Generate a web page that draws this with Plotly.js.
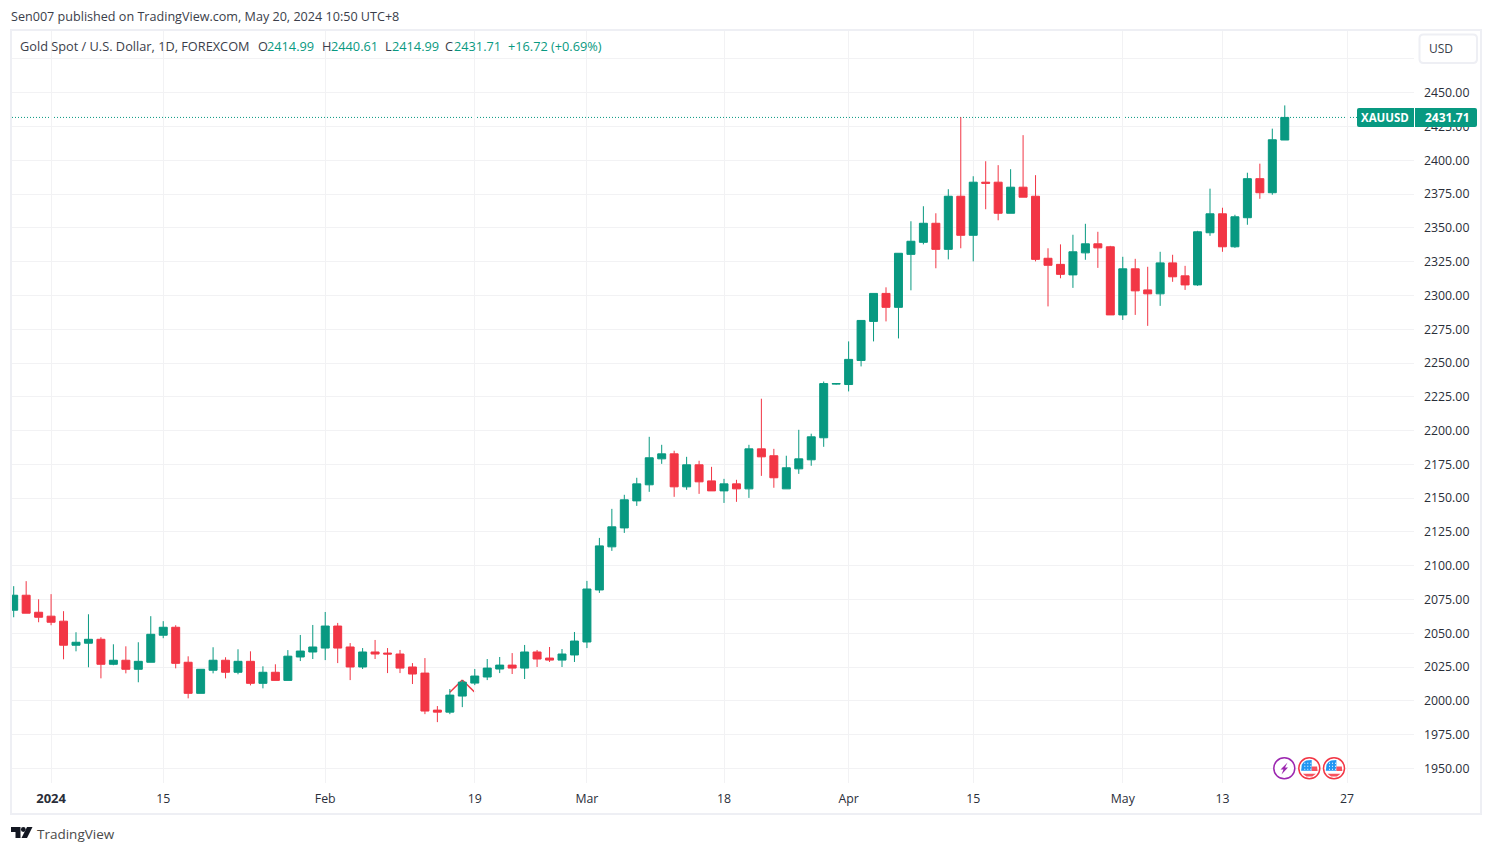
<!DOCTYPE html>
<html>
<head>
<meta charset="utf-8">
<script src="https://cdn.plot.ly/plotly-3.0.1.min.js"></script>
<style>html,body{margin:0;padding:0;background:#fff;overflow:hidden}#chart{width:1492px;height:853px}</style>
</head>
<body>
<div id="chart"></div>
<script>
var sessionDates = [
"2023-12-27","2023-12-28","2023-12-29",
"2024-01-02","2024-01-03","2024-01-04","2024-01-05","2024-01-08","2024-01-09","2024-01-10","2024-01-11","2024-01-12","2024-01-15","2024-01-16","2024-01-17","2024-01-18","2024-01-19","2024-01-22","2024-01-23","2024-01-24","2024-01-25","2024-01-26","2024-01-29","2024-01-30","2024-01-31",
"2024-02-01","2024-02-02","2024-02-05","2024-02-06","2024-02-07","2024-02-08","2024-02-09","2024-02-12","2024-02-13","2024-02-14","2024-02-15","2024-02-16","2024-02-19","2024-02-20","2024-02-21","2024-02-22","2024-02-23","2024-02-26","2024-02-27","2024-02-28","2024-02-29",
"2024-03-01","2024-03-04","2024-03-05","2024-03-06","2024-03-07","2024-03-08","2024-03-11","2024-03-12","2024-03-13","2024-03-14","2024-03-15","2024-03-18","2024-03-19","2024-03-20","2024-03-21","2024-03-22","2024-03-25","2024-03-26","2024-03-27","2024-03-28","2024-03-29",
"2024-04-01","2024-04-02","2024-04-03","2024-04-04","2024-04-05","2024-04-08","2024-04-09","2024-04-10","2024-04-11","2024-04-12","2024-04-15","2024-04-16","2024-04-17","2024-04-18","2024-04-19","2024-04-22","2024-04-23","2024-04-24","2024-04-25","2024-04-26","2024-04-29","2024-04-30",
"2024-05-01","2024-05-02","2024-05-03","2024-05-06","2024-05-07","2024-05-08","2024-05-09","2024-05-10","2024-05-13","2024-05-14","2024-05-15","2024-05-16","2024-05-17","2024-05-20"];
var futureDates = ["2024-05-21","2024-05-22","2024-05-23","2024-05-24","2024-05-27"];

var opens = [2067.1,2078.2,2065.6,2062.7,2059,2041.2,2042.7,2045.6,2027.1,2030.1,2023.4,2028.6,2048.6,2054.5,2028.6,2005.6,2022.7,2030.1,2021.2,2029.3,2013,2021.2,2015.2,2032.5,2036.2,2039.1,2055.4,2039.9,2025.1,2036.2,2035.4,2034.7,2025.1,2020.6,1993.2,1991.7,2003.6,2013.2,2017.7,2023.6,2026.5,2024.3,2036.2,2031.7,2030.2,2034,2043.6,2082.1,2114,2128,2148,2159.9,2179.1,2182.8,2158.4,2174.7,2162.8,2155.4,2160.6,2156.9,2186.5,2181.4,2156.9,2171.7,2178.4,2194.7,2234.4,2234.1,2251.9,2280.8,2301.5,2291.2,2330.4,2339.3,2353.4,2334.1,2373.4,2344.5,2383.8,2383.8,2360.8,2380.1,2373.4,2327.5,2323,2315.2,2331.5,2338.2,2336,2285.6,2319.7,2304.1,2301.2,2324.1,2314.5,2307.8,2346.4,2360.4,2336,2357.5,2386.4,2376,2414.99];
var highs = [2084.9,2088.6,2075.2,2079,2066.4,2050.8,2064.1,2047.1,2041.9,2040.4,2043.4,2062.7,2059,2056,2033,2023.4,2039.7,2032.3,2038.2,2036.7,2025.6,2027.1,2037.6,2048.8,2056.2,2065.8,2057.7,2042.8,2039.1,2045.1,2039.1,2037.7,2028,2031.7,1996.2,2008.8,2015.4,2023.6,2031,2032.5,2035.4,2041.4,2037.7,2039.9,2038.4,2051,2088.8,2120.6,2142.1,2152.5,2165.1,2195.4,2189.5,2185.1,2180.6,2177.7,2173.2,2164.3,2163.6,2189.5,2223.6,2186.5,2181.4,2200.6,2197.7,2236.3,2235,2266,2281.5,2301.5,2306,2331.2,2354.9,2366,2360.8,2378.6,2431.9,2388.2,2399.3,2396.4,2393.4,2418.6,2389,2334.9,2337.8,2344.9,2353,2347.1,2336.7,2328.6,2327.1,2321.2,2332.3,2330.1,2321.9,2347.8,2379,2364.9,2359.7,2390.8,2397.5,2423.4,2440.61];
var lows = [2061.9,2064.9,2058.2,2056,2030.8,2036.7,2024.9,2016.7,2026.4,2020.4,2013.8,2028.6,2046.4,2024.1,2001.9,2005.6,2020.4,2016.7,2019.7,2011.5,2009.3,2015.2,2015.2,2029.5,2031,2030.2,2028,2015.4,2023.6,2031,2020.6,2020.6,2012.5,1990.2,1984.3,1990.2,1995.4,2011.7,2015.4,2020.6,2019.9,2016.2,2025.1,2028.8,2025.1,2028.8,2039.1,2079.9,2111,2124.3,2144.3,2154.7,2175.4,2151,2156.2,2153.2,2155.4,2146.5,2147.3,2150.2,2166.5,2157.7,2156.9,2168,2174,2188,2234,2229,2247.5,2266,2280.8,2268.2,2303.8,2337.8,2320.1,2326.7,2334.9,2325.2,2363.8,2355.6,2360.8,2372.7,2325.2,2291.9,2312.7,2305.6,2326.4,2320.4,2285.6,2281.9,2285.6,2277.5,2292.3,2310.1,2304.1,2307.1,2344.1,2332.3,2335.2,2352.3,2371.5,2374.5,2414.99];
var closes = [2078.2,2064.9,2061.9,2058.2,2041.2,2043.4,2045.6,2027.1,2030.1,2023.4,2029.3,2049.3,2054.5,2027.8,2005.6,2023.4,2030.1,2021.2,2029.3,2013,2021.2,2015.2,2033.1,2036.9,2039.9,2055.4,2039.1,2025.1,2036.2,2034.7,2034.7,2024.3,2019.9,1992.5,1991.7,2004.3,2013.9,2018.4,2024.3,2026.5,2024.3,2036.2,2031,2030.2,2034.7,2044.3,2082.8,2114.7,2128.8,2148.8,2160.6,2179.9,2182.8,2158.4,2174.7,2162.1,2155.4,2160.6,2156.9,2186.5,2180.6,2165.1,2172.5,2179.1,2195.4,2234.8,2234.8,2252.7,2281.5,2301.5,2291.2,2331.2,2340.1,2353.4,2334.1,2373.4,2344.5,2383.8,2383,2360.8,2380.1,2372.7,2326.7,2322.3,2315.6,2332.3,2338.2,2335.2,2285.6,2319.7,2303.4,2301.2,2324.1,2313.8,2307.8,2347.1,2360.4,2336,2358.2,2386.4,2376,2415.2,2431.71];

var priceTicks = [1950,1975,2000,2025,2050,2075,2100,2125,2150,2175,2200,2225,2250,2275,2300,2325,2350,2375,2400,2425,2450,2475];
var priceLabels = ["1950.00","1975.00","2000.00","2025.00","2050.00","2075.00","2100.00","2125.00","2150.00","2175.00","2200.00","2225.00","2250.00","2275.00","2300.00","2325.00","2350.00","2375.00","2400.00","2425.00","2450.00",""];
var timeTicks = ["2024-01-02","2024-01-15","2024-02-01","2024-02-19","2024-03-01","2024-03-18","2024-04-01","2024-04-15","2024-05-01","2024-05-13","2024-05-27"];
var timeLabels = ["<b style=\"font-size:13px\">2024</b>","15","Feb","19","Mar","18","Apr","15","May","13","27"];

var chevronDates = ["2024-02-15","2024-02-16","2024-02-19"];
var chevronPrices = [2006.4,2015.5,2006.4];

var lastPrice = 2431.71;
var legendPieces = [
  ["Gold Spot / U.S. Dollar, 1D, FOREXCOM", 19, "#3a3e4a"],
  ["O", 257, "#3a3e4a"], ["2414.99", 266, "#089981"],
  ["H", 321, "#3a3e4a"], ["2440.61", 330, "#089981"],
  ["L", 384, "#3a3e4a"], ["2414.99", 391, "#089981"],
  ["C", 444, "#3a3e4a"], ["2431.71", 453, "#089981"],
  ["+16.72", 507, "#089981"], ["(+0.69%)", 550, "#089981"]
];

var GREEN = "#089981", RED = "#F23645", GRID = "#f2f2f4", FRAME = "#eeeff4", FONT = "'Open Sans', sans-serif";
var L = 12, R = 1414, T = 31, B = 783;
function fx(px){ return (px - L) / (R - L); }
function fy(py){ return 1 - (py - T) / (B - T); }
function path(cmds){
  return cmds.map(function(c){
    if (c === "Z") return "Z";
    return c[0] + fx(c[1]) + "," + fy(c[2]);
  }).join(" ");
}
function pathShape(cmds, fill, line, w){
  return {type:"path", xref:"paper", yref:"paper", path:path(cmds), fillcolor:fill,
          line:{color:line||fill, width:w||0}, layer:"above"};
}
function circleShape(cx, cy, r, fill, line, w){
  return {type:"circle", xref:"paper", yref:"paper", x0:fx(cx-r), x1:fx(cx+r), y0:fy(cy+r), y1:fy(cy-r),
          fillcolor:fill, line:{color:line, width:w}, layer:"above"};
}
function roundedPath(x0, y0, x1, y1, rl, rr){
  function q(a,b,c,d){ return "Q"+fx(a)+","+fy(b)+" "+fx(c)+","+fy(d); }
  function p(c,a,b){ return c+fx(a)+","+fy(b); }
  return [p("M",x0+rl,y0), p("L",x1-rr,y0), q(x1,y0,x1,y0+rr), p("L",x1,y1-rr), q(x1,y1,x1-rr,y1),
          p("L",x0+rl,y1), q(x0,y1,x0,y1-rl), p("L",x0,y0+rl), q(x0,y0,x0+rl,y0), "Z"].join(" ");
}
function roundShape(x0,y0,x1,y1,rl,rr,fill,line,w){
  return {type:"path", xref:"paper", yref:"paper", path:roundedPath(x0,y0,x1,y1,rl,rr),
          fillcolor:fill, line:{color:line, width:w}, layer:"above"};
}
function text(t, px, py, size, color, anchor){
  return {text:t, xref:"paper", yref:"paper", x:fx(px), y:fy(py), xanchor:anchor||"left", yanchor:"middle",
          showarrow:false, borderpad:0, font:{family:FONT, size:size, color:color}};
}

var shapes = [
  {type:"rect", xref:"paper", yref:"paper", x0:fx(11), x1:fx(1481), y0:fy(814), y1:fy(30), line:{color:FRAME, width:2}, fillcolor:"rgba(0,0,0,0)", layer:"below"},
  {type:"line", xref:"paper", yref:"y", x0:0, x1:fx(1357), y0:lastPrice, y1:lastPrice, line:{color:GREEN, width:1, dash:"1px,2px"}, layer:"below"},
  {type:"line", xref:"x", yref:"y", x0:chevronDates[0], x1:chevronDates[1], y0:chevronPrices[0], y1:chevronPrices[1], line:{color:RED, width:1.5}, layer:"below"},
  {type:"line", xref:"x", yref:"y", x0:chevronDates[1], x1:chevronDates[2], y0:chevronPrices[1], y1:chevronPrices[2], line:{color:RED, width:1.5}, layer:"below"},
  roundShape(1419.5,34.5,1477,63,4,4,"#ffffff",FRAME,2),
  roundShape(1357,108,1414,127,2,0,GREEN,GREEN,0),
  roundShape(1415,108,1477,127,0,2,GREEN,GREEN,0),
  pathShape([["M",11,827],["L",20.5,827],["L",20.5,838],["L",15.5,838],["L",15.5,832],["L",11,832],"Z"], "#131722"),
  circleShape(23.3,829.5,2.4,"#131722","#131722",0),
  pathShape([["M",27,827],["L",32.5,827],["L",27,838],["L",21.5,838],"Z"], "#131722"),
  circleShape(1284.3,768.3,10.5,"#ffffff","#9C27B0",1.5),
  pathShape([["M",1287.5,762.5],["L",1280.5,769.5],["L",1283.5,769.5],["L",1281.5,774.5],["L",1288,767.5],["L",1285,767.5],"Z"], "#9C27B0")
];
[1309.3, 1334].forEach(function(cx){
  var cy = 768.3;
  shapes.push(circleShape(cx,cy,10.5,"#ffffff",RED,1.5));
  shapes.push(pathShape([["M",cx-8.2,cy+2.4],["L",cx-7.5,cy-3.5],["L",cx-5.5,cy-6.3],["L",cx-3,cy-7.9],["L",cx+2.4,cy-8.2],["L",cx+2.4,cy+2.4],"Z"], "#2196F3"));
  shapes.push(pathShape([["M",cx+2.4,cy-1.7],["L",cx+7.8,cy-1.7],["L",cx+8.3,cy+2.7],["L",cx+2.4,cy+2.7],"Z"], "#F7525F"));
  shapes.push(pathShape([["M",cx-6.5,cy+5.5],["L",cx+6.5,cy+5.5],["L",cx+3,cy+8.3],["L",cx-3,cy+8.3],"Z"], "#F7525F"));
  var dots = [];
  [-5,-2,1].forEach(function(dx){ [-5.5,-2.5,0.5].forEach(function(dy){
    dots.push(["M",cx+dx,cy+dy],["L",cx+dx+1,cy+dy],["L",cx+dx+1,cy+dy+1],["L",cx+dx,cy+dy+1],"Z");
  }); });
  shapes.push(pathShape(dots, "#ffffff"));
});

var annotations = [
  text("Sen007 published on TradingView.com, May 20, 2024 10:50 UTC+8", 10, 16, 12.6, "#3a3e4a"),
  text("USD", 1428, 48.5, 12, "#3a3e4a"),
  text("<b>XAUUSD</b>", 1385, 117.5, 11.5, "#ffffff", "center"),
  text("<b>" + lastPrice.toFixed(2) + "</b>", 1447, 117.5, 12, "#ffffff", "center"),
  text("TradingView", 35.5, 834, 13.5, "#4a4a4a")
];
legendPieces.forEach(function(p){ annotations.push(text(p[0], p[1], 45.6, 12.75, p[2])); });

var candles = {
  type:"candlestick", x:sessionDates, open:opens, high:highs, low:lows, close:closes,
  increasing:{line:{color:GREEN, width:1}, fillcolor:GREEN},
  decreasing:{line:{color:RED, width:1}, fillcolor:RED},
  whiskerwidth:0, hoverinfo:"none", showlegend:false
};

var layout = {
  width:1492, height:853, autosize:false,
  margin:{l:L, r:1492-R, t:T, b:853-B, pad:0},
  paper_bgcolor:"#ffffff", plot_bgcolor:"#ffffff",
  font:{family:FONT, size:12, color:"#3a3e4a"},
  showlegend:false, boxgap:0.36, boxgroupgap:0,
  xaxis:{type:"category", categoryorder:"array", categoryarray:sessionDates.concat(futureDates),
    range:[-0.136,112.37], tickmode:"array", tickvals:timeTicks, ticktext:timeLabels,
    showgrid:true, gridcolor:GRID, gridwidth:1, zeroline:false, showline:false, ticks:"",
    tickangle:0, rangeslider:{visible:false}, fixedrange:true, ticklabelstandoff:7,
    tickfont:{family:FONT, size:12.3, color:"#2a2e39"}},
  yaxis:{type:"linear", side:"right", range:[1939.27,2495.66], tickmode:"array", tickvals:priceTicks, ticktext:priceLabels,
    showgrid:true, gridcolor:GRID, gridwidth:1, zeroline:false, showline:false, ticks:"",
    fixedrange:true, ticklabelstandoff:9, ticklabelshift:0.5, tickfont:{family:FONT, size:12.3, color:"#2a2e39"}},
  shapes:shapes, annotations:annotations
};
Plotly.newPlot("chart", [candles], layout, {displayModeBar:false, staticPlot:true});
</script>
</body>
</html>
